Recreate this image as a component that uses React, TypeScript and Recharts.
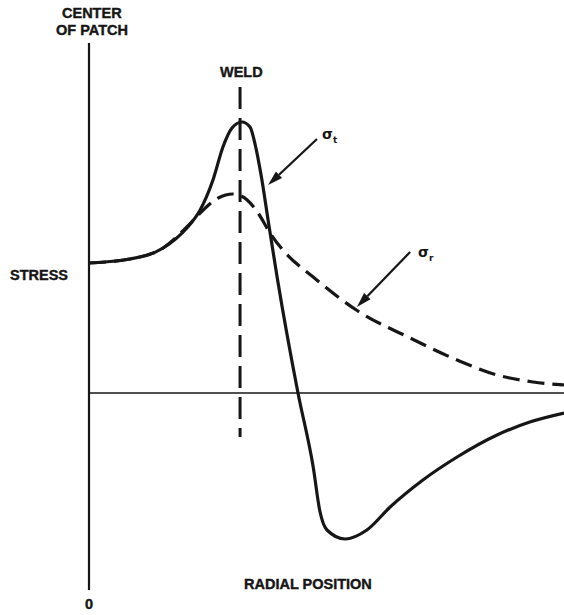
import { LineChart, Line, XAxis, YAxis, ReferenceLine } from "recharts";

// radial position (0 = center of patch) and stress, arbitrary units
const tangentialR = [0, 8.6, 15.6, 20.6, 23.4, 26.1, 28.2, 30.1, 32.2, 33.9, 35.0, 36.3, 37.7, 39.6, 44.0, 47.2, 48.6, 50.1, 53.9, 58.5, 63.4, 70.3, 77.5, 85.9, 92.8, 100];
const tangentialStress = [13.0, 13.4, 14.5, 16.5, 18.3, 21.3, 24.6, 26.5, 27.1, 26.6, 24.8, 21.6, 17.3, 11.6, 0, -7.4, -11.8, -13.7, -14.6, -13.7, -11.4, -8.7, -6.4, -4.2, -2.9, -2.0];

const radialR = [0, 8.6, 15.6, 20.6, 23.4, 27.2, 30.3, 33.3, 35.6, 38.1, 40.8, 47.2, 56.6, 67.6, 77.5, 85.9, 93.5, 100];
const radialStress = [13.0, 13.4, 14.5, 16.6, 18.0, 19.5, 19.9, 19.3, 18.0, 16.0, 14.3, 11.6, 8.2, 5.5, 3.3, 1.8, 1.1, 0.8];

const weldR = 31.8;
const weldSpan = [30.6, -4.4];

// label arrows: [from, to] in data units
const sigmaTArrow = [{ x: 48.0, y: 25.4 }, { x: 37.7, y: 20.8 }];
const sigmaRArrow = [{ x: 67.6, y: 14.1 }, { x: 56.4, y: 8.6 }];

const tangential = tangentialR.map((r, i) => ({ r, s: tangentialStress[i] }));
const radial = radialR.map((r, i) => ({ r, s: radialStress[i] }));

const INK = "#161616";
const labelFont = "'Liberation Sans', Arial, sans-serif";

const Arrow = (props) => {
  const { x1, y1, x2, y2 } = props;
  const ang = Math.atan2(y2 - y1, x2 - x1);
  const len = 15;
  const hw = 4.5;
  const bx = x2 - len * Math.cos(ang);
  const by = y2 - len * Math.sin(ang);
  const px = -Math.sin(ang) * hw;
  const py = Math.cos(ang) * hw;
  return (
    <g>
      <line x1={x1} y1={y1} x2={bx} y2={by} stroke={INK} strokeWidth={2.2} />
      <polygon points={`${x2},${y2} ${bx + px},${by + py} ${bx - px},${by - py}`} fill={INK} />
    </g>
  );
};

const lbl = (left, top, text, extra = {}) => (
  <div
    style={{
      position: "absolute",
      left,
      top,
      fontFamily: labelFont,
      fontWeight: 700,
      fontSize: 14.5,
      lineHeight: "18px",
      color: INK,
      whiteSpace: "nowrap",
      WebkitTextStroke: "0.4px " + INK,
      ...extra,
    }}
  >
    {text}
  </div>
);

const sigma = (left, top, sub) => (
  <div
    style={{
      position: "absolute",
      left,
      top,
      fontFamily: "'DejaVu Sans', sans-serif",
      fontWeight: 700,
      fontSize: 14,
      color: INK,
    }}
  >
    σ<sub style={{ fontSize: 9 }}>{sub}</sub>
  </div>
);

export default function App() {
  return (
    <div style={{ position: "absolute", left: 0, top: 0, width: 564, height: 615, background: "#fff" }}>
      <LineChart width={564} height={615} margin={{ top: 43, right: 0, left: 89, bottom: 25 }}>
        <XAxis dataKey="r" type="number" domain={[0, 100]} hide height={0} allowDataOverflow />
        <YAxis type="number" domain={[-19.7, 35]} hide width={0} allowDataOverflow />
        <ReferenceLine x={0} stroke={INK} strokeWidth={2.2} ifOverflow="visible" />
        <ReferenceLine y={0} stroke={INK} strokeWidth={1.6} />
        <ReferenceLine
          segment={[{ x: weldR, y: weldSpan[0] }, { x: weldR, y: weldSpan[1] }]}
          stroke={INK}
          strokeWidth={3}
          strokeDasharray="22 9"
        />
        <Line
          data={radial}
          dataKey="s"
          type="monotone"
          stroke={INK}
          strokeWidth={3.2}
          strokeDasharray="17 8"
          dot={false}
          isAnimationActive={false}
        />
        <Line
          data={tangential}
          dataKey="s"
          type="monotone"
          stroke={INK}
          strokeWidth={3.2}
          dot={false}
          isAnimationActive={false}
        />
        <ReferenceLine segment={sigmaTArrow} shape={Arrow} />
        <ReferenceLine segment={sigmaRArrow} shape={Arrow} />
      </LineChart>
      {lbl(62, 4, "CENTER")}
      {lbl(56, 21, "OF PATCH")}
      {lbl(220, 63, "WELD")}
      {lbl(10, 266, "STRESS")}
      {lbl(244, 575, "RADIAL POSITION")}
      {lbl(85, 595, "0")}
      {sigma(322, 126, "t")}
      {sigma(418, 244, "r")}
    </div>
  );
}
